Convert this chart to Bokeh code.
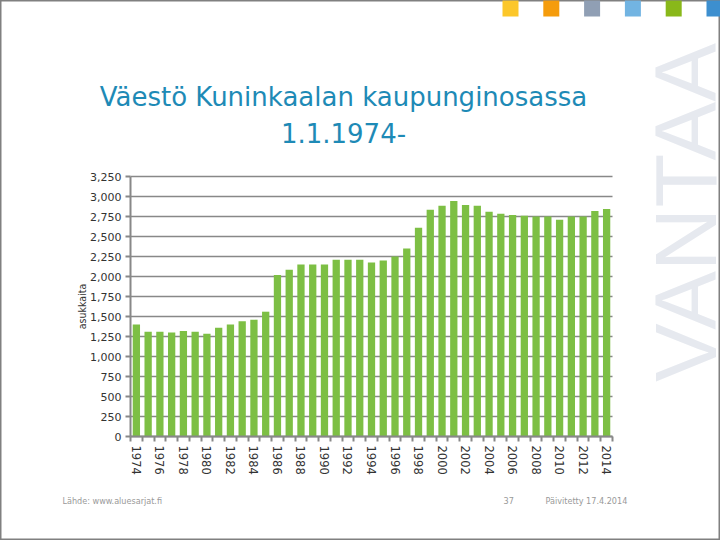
from bokeh.plotting import figure
from bokeh.models import Label, BoxAnnotation, FixedTicker, NumeralTickFormatter, Range1d
from bokeh.embed import file_html
from bokeh.resources import INLINE

years = list(range(1974, 2015))
population = [1400, 1310, 1310, 1300, 1320, 1310, 1285, 1360, 1400, 1440,
              1460, 1560, 2020, 2085, 2150, 2150, 2150, 2210, 2210, 2210,
              2175, 2200, 2250, 2350, 2610, 2835, 2885, 2945, 2895, 2885,
              2810, 2785, 2770, 2760, 2750, 2750, 2710, 2750, 2750, 2820,
              2845]
y_ticks = [0, 250, 500, 750, 1000, 1250, 1500, 1750, 2000, 2250, 2500, 2750, 3000, 3250]
label_years = years[::2]

title_line1 = "Väestö Kuninkaalan kaupunginosassa"
title_line2 = "1.1.1974-"
y_label = "asukkaita"
source_text = "Lähde: www.aluesarjat.fi"
page_no = "37"
updated = "Päivitetty 17.4.2014"
logo_colors = ["#fcc72a", "#f59c0c", "#909fb4", "#72b4e2", "#89b81a", "#3d8fcf"]

W, H = 720, 540
# chart area inside the canvas (px)
CL, CR, CT, CB = 130, 612, 176, 436
x0, x1 = years[0] - 0.5, years[-1] + 0.5
y0, y1 = 0, y_ticks[-1]
sx = (CR - CL) / (x1 - x0)
sy = (CB - CT) / (y1 - y0)

p = figure(width=W, height=H, output_backend="svg", toolbar_location=None,
           x_range=Range1d(x0 - CL / sx, x1 + (W - CR) / sx),
           y_range=Range1d(y0 - (H - CB) / sy, y1 + CT / sy),
           min_border=0)
p.outline_line_color = "#808080"
p.outline_line_width = 2
p.background_fill_color = "white"
p.border_fill_color = "white"
p.grid.grid_line_color = None

def dx(px):
    return x0 + (px - CL) / sx

def dy(py):
    return y0 + (CB - py) / sy

# watermark
p.add_layout(Label(x=dx(685), y=dy(212), text="VANTAA", angle=1.5708,
                   text_align="center", text_baseline="middle",
                   text_font="Liberation Sans", text_font_size="88px",
                   text_color="#e6e9ef", level="underlay"))

# horizontal gridlines across the chart area only
p.segment(x0=[x0] * len(y_ticks), x1=[x1] * len(y_ticks), y0=y_ticks, y1=y_ticks,
          line_color="#888888", line_width=1.5)

p.vbar(x=years, top=population, width=0.62, color="#7dbf44", line_color=None)

# axes placed at chart-area edges
p.yaxis.fixed_location = x0
p.yaxis.bounds = (y0, y1)
p.yaxis.ticker = FixedTicker(ticks=y_ticks)
p.yaxis.formatter = NumeralTickFormatter(format="0,0")
p.yaxis.axis_label = y_label
p.yaxis.axis_label_text_font = "DejaVu Sans Condensed"
p.yaxis.axis_label_text_font_size = "10.5px"
p.yaxis.axis_label_text_font_style = "normal"
p.yaxis.axis_label_text_color = "#333333"
p.yaxis.axis_label_standoff = -1
p.yaxis.major_label_text_font = "DejaVu Sans"
p.yaxis.major_label_text_font_size = "11px"
p.yaxis.major_label_text_color = "#333333"
p.yaxis.major_label_standoff = 4
p.yaxis.axis_line_color = "#888888"
p.yaxis.axis_line_width = 2
p.yaxis.major_tick_line_color = "#888888"
p.yaxis.major_tick_line_width = 2
p.yaxis.major_tick_out = 5
p.yaxis.major_tick_in = 0
p.yaxis.minor_tick_line_color = None

p.xaxis.fixed_location = y0
p.xaxis.bounds = (x0, x1)
p.xaxis.ticker = FixedTicker(ticks=label_years,
                             minor_ticks=[y - 0.5 for y in years] + [years[-1] + 0.5])
p.xaxis.major_label_orientation = "vertical"
p.xaxis.major_label_text_font = "DejaVu Sans"
p.xaxis.major_label_text_font_size = "11.5px"
p.xaxis.major_label_text_color = "#333333"
p.xaxis.major_label_standoff = 4
p.xaxis.axis_line_color = "#888888"
p.xaxis.axis_line_width = 2
p.xaxis.major_tick_line_color = None
p.xaxis.major_tick_out = 5
p.xaxis.minor_tick_line_color = "#888888"
p.xaxis.minor_tick_line_width = 2
p.xaxis.minor_tick_out = 5
p.xaxis.minor_tick_in = 0

# title
for txt, mid in [(title_line1, 96.5), (title_line2, 132.5)]:
    p.add_layout(Label(x=dx(343), y=dy(mid), text=txt, text_align="center",
                       text_baseline="middle", text_font="DejaVu Sans",
                       text_font_size="26px", text_color="#1e8ab6"))

# logo squares
for i, c in enumerate(logo_colors):
    left = 502 + i * 40.8
    p.add_layout(BoxAnnotation(left=dx(left), right=dx(left + 16), top=dy(-4), bottom=dy(16),
                               fill_color=c, fill_alpha=1, line_color=None))

# footer
for txt, xp in [(source_text, 62), (page_no, 503), (updated, 545)]:
    p.add_layout(Label(x=dx(xp), y=dy(500), text=txt, text_align="left",
                       text_baseline="middle", text_font="DejaVu Sans Condensed",
                       text_font_size="9px", text_color="#999999"))

open("out.html", "w").write(file_html(p, INLINE))
